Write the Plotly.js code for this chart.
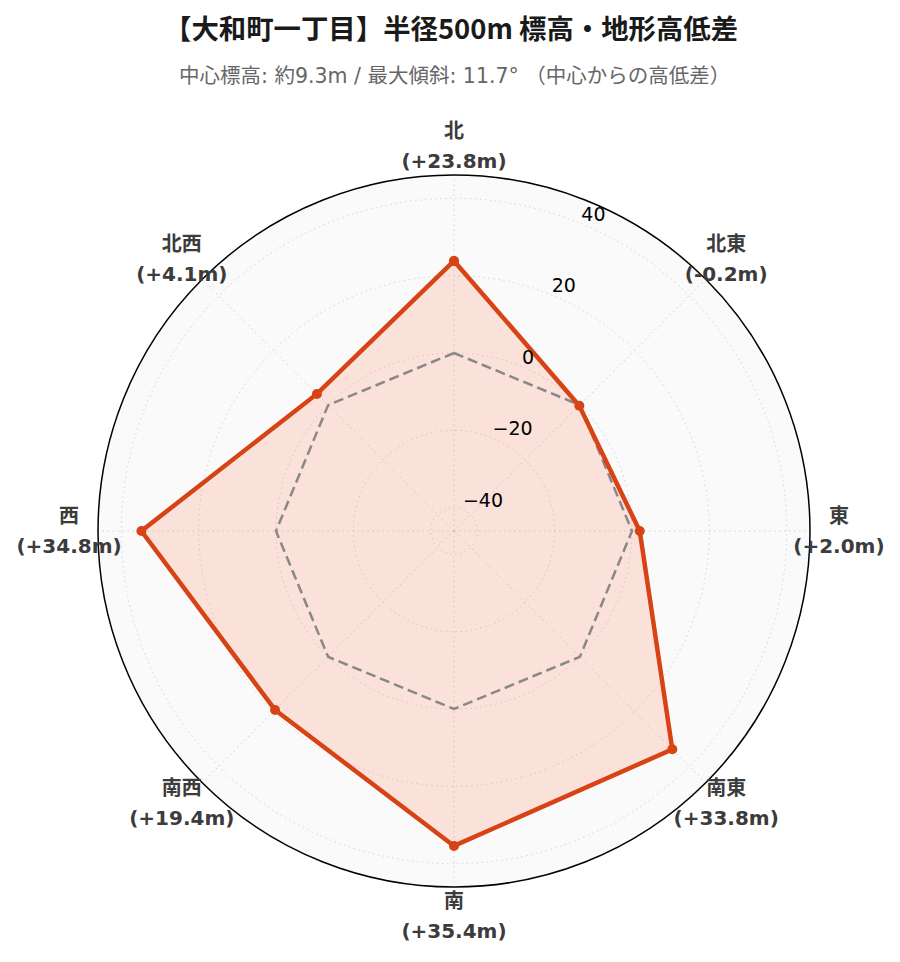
<!DOCTYPE html>
<html>
<head>
<meta charset="utf-8">
<script src="https://cdn.plot.ly/plotly-3.0.1.min.js"></script>
<style>html,body{margin:0;padding:0;background:#fff;}#chart{width:900px;height:962px;}</style>
</head>
<body>
<div id="chart"></div>
<script>
const directions = ['北', '北東', '東', '南東', '南', '南西', '西', '北西'];
const relElevation = [23.8, -0.2, 2.0, 33.8, 35.4, 19.4, 34.8, 4.1];
const baseline = [0, 0, 0, 0, 0, 0, 0, 0];
const radialTickVals = [-40, -20, 0, 20, 40];
const radialTickText = ['−40', '−20', '0', '20', '40'];
const titleText = '【大和町一丁目】半径500m 標高・地形高低差';
const subtitleText = '中心標高: 約9.3m / 最大傾斜: 11.7° （中心からの高低差）';

// main polar: centre (454,531), radius 356 px
const rRange = [-46.02, 46.02];
// overlay polar for text: radius 400 px, same scale
const rRangeLabels = [-46.02, -46.02 + 400 / 356 * 92.04];
const labelR = 53.5;
const radialLabelAngle = 22.5;

const close = a => a.concat([a[0]]);
const dirAngles = directions.map((d, i) => i * 360 / directions.length);
const valueLabels = relElevation.map(v => '(' + (v >= 0 ? '+' : '') + v.toFixed(1) + 'm)');

const labelFont = {family: 'DejaVu Sans, Noto Sans CJK JP, sans-serif', size: 20, color: '#3c3c3c', weight: 'bold'};

const traces = [
  {
    type: 'scatterpolar',
    r: close(relElevation),
    theta: close(directions),
    mode: 'none',
    fill: 'toself',
    fillcolor: 'rgba(255,87,34,0.15)',
    hoverinfo: 'skip',
    showlegend: false
  },
  {
    type: 'scatterpolar',
    r: close(baseline),
    theta: close(directions),
    mode: 'lines',
    line: {color: '#888888', width: 2.5, dash: '10px,5px'},
    hoverinfo: 'skip',
    showlegend: false
  },
  {
    type: 'scatterpolar',
    r: close(relElevation),
    theta: close(directions),
    mode: 'lines+markers',
    line: {color: '#d84315', width: 4.5},
    marker: {color: '#d84315', size: 10},
    showlegend: false
  },
  {
    type: 'scatterpolar',
    subplot: 'polar2',
    r: directions.map(() => labelR),
    theta: dirAngles,
    mode: 'markers+text',
    marker: {size: 6, opacity: 0},
    text: directions,
    textposition: 'top center',
    textfont: labelFont,
    cliponaxis: false,
    hoverinfo: 'skip',
    showlegend: false
  },
  {
    type: 'scatterpolar',
    subplot: 'polar2',
    r: directions.map(() => labelR),
    theta: dirAngles,
    mode: 'markers+text',
    marker: {size: 6, opacity: 0},
    text: valueLabels,
    textposition: 'bottom center',
    textfont: labelFont,
    cliponaxis: false,
    hoverinfo: 'skip',
    showlegend: false
  },
  {
    type: 'scatterpolar',
    subplot: 'polar2',
    r: radialTickVals,
    theta: radialTickVals.map(() => radialLabelAngle),
    mode: 'text',
    text: radialTickText,
    textposition: 'top right',
    textfont: {family: 'DejaVu Sans, sans-serif', size: 19, color: '#000000'},
    cliponaxis: false,
    hoverinfo: 'skip',
    showlegend: false
  }
];

const layout = {
  width: 900,
  height: 962,
  margin: {l: 0, r: 0, t: 0, b: 0},
  paper_bgcolor: '#ffffff',
  showlegend: false,
  polar: {
    domain: {x: [98 / 900, 810 / 900], y: [1 - 887 / 962, 1 - 175 / 962]},
    bgcolor: '#fafafa',
    radialaxis: {
      range: rRange,
      angle: 67.5,
      tickvals: radialTickVals,
      ticktext: radialTickText,
      showticklabels: false,
      showline: false,
      ticks: '',
      gridcolor: '#d3d3d3',
      griddash: '1.5px,3.5px',
      gridwidth: 1.2
    },
    angularaxis: {
      type: 'category',
      categoryarray: directions,
      direction: 'clockwise',
      rotation: 90,
      showticklabels: false,
      ticks: '',
      showline: true,
      linecolor: '#000000',
      linewidth: 1.5,
      gridcolor: '#d3d3d3',
      griddash: '1.5px,3.5px',
      gridwidth: 1.2
    }
  },
  polar2: {
    domain: {x: [54 / 900, 854 / 900], y: [1 - 933 / 962, 1 - 133 / 962]},
    bgcolor: 'rgba(0,0,0,0)',
    radialaxis: {range: rRangeLabels, visible: false, showgrid: false, showticklabels: false, showline: false},
    angularaxis: {
      thetaunit: 'degrees',
      direction: 'clockwise',
      rotation: 90,
      visible: false,
      showgrid: false,
      showticklabels: false,
      showline: false
    }
  },
  annotations: [
    {
      text: titleText, xref: 'paper', yref: 'paper', x: 0.501, y: 1 - 27 / 962,
      xanchor: 'center', yanchor: 'middle', showarrow: false,
      font: {family: 'Noto Sans CJK JP, sans-serif', size: 27.4, color: '#1a1a1a', weight: 'bold'}
    },
    {
      text: subtitleText, xref: 'paper', yref: 'paper', x: 0.5045, y: 1 - 76 / 962,
      xanchor: 'center', yanchor: 'middle', showarrow: false,
      font: {family: 'DejaVu Sans, Noto Sans CJK JP, sans-serif', size: 20.5, color: '#666666'}
    }
  ]
};

Plotly.newPlot('chart', traces, layout, {displayModeBar: false, responsive: false});
</script>
</body>
</html>
